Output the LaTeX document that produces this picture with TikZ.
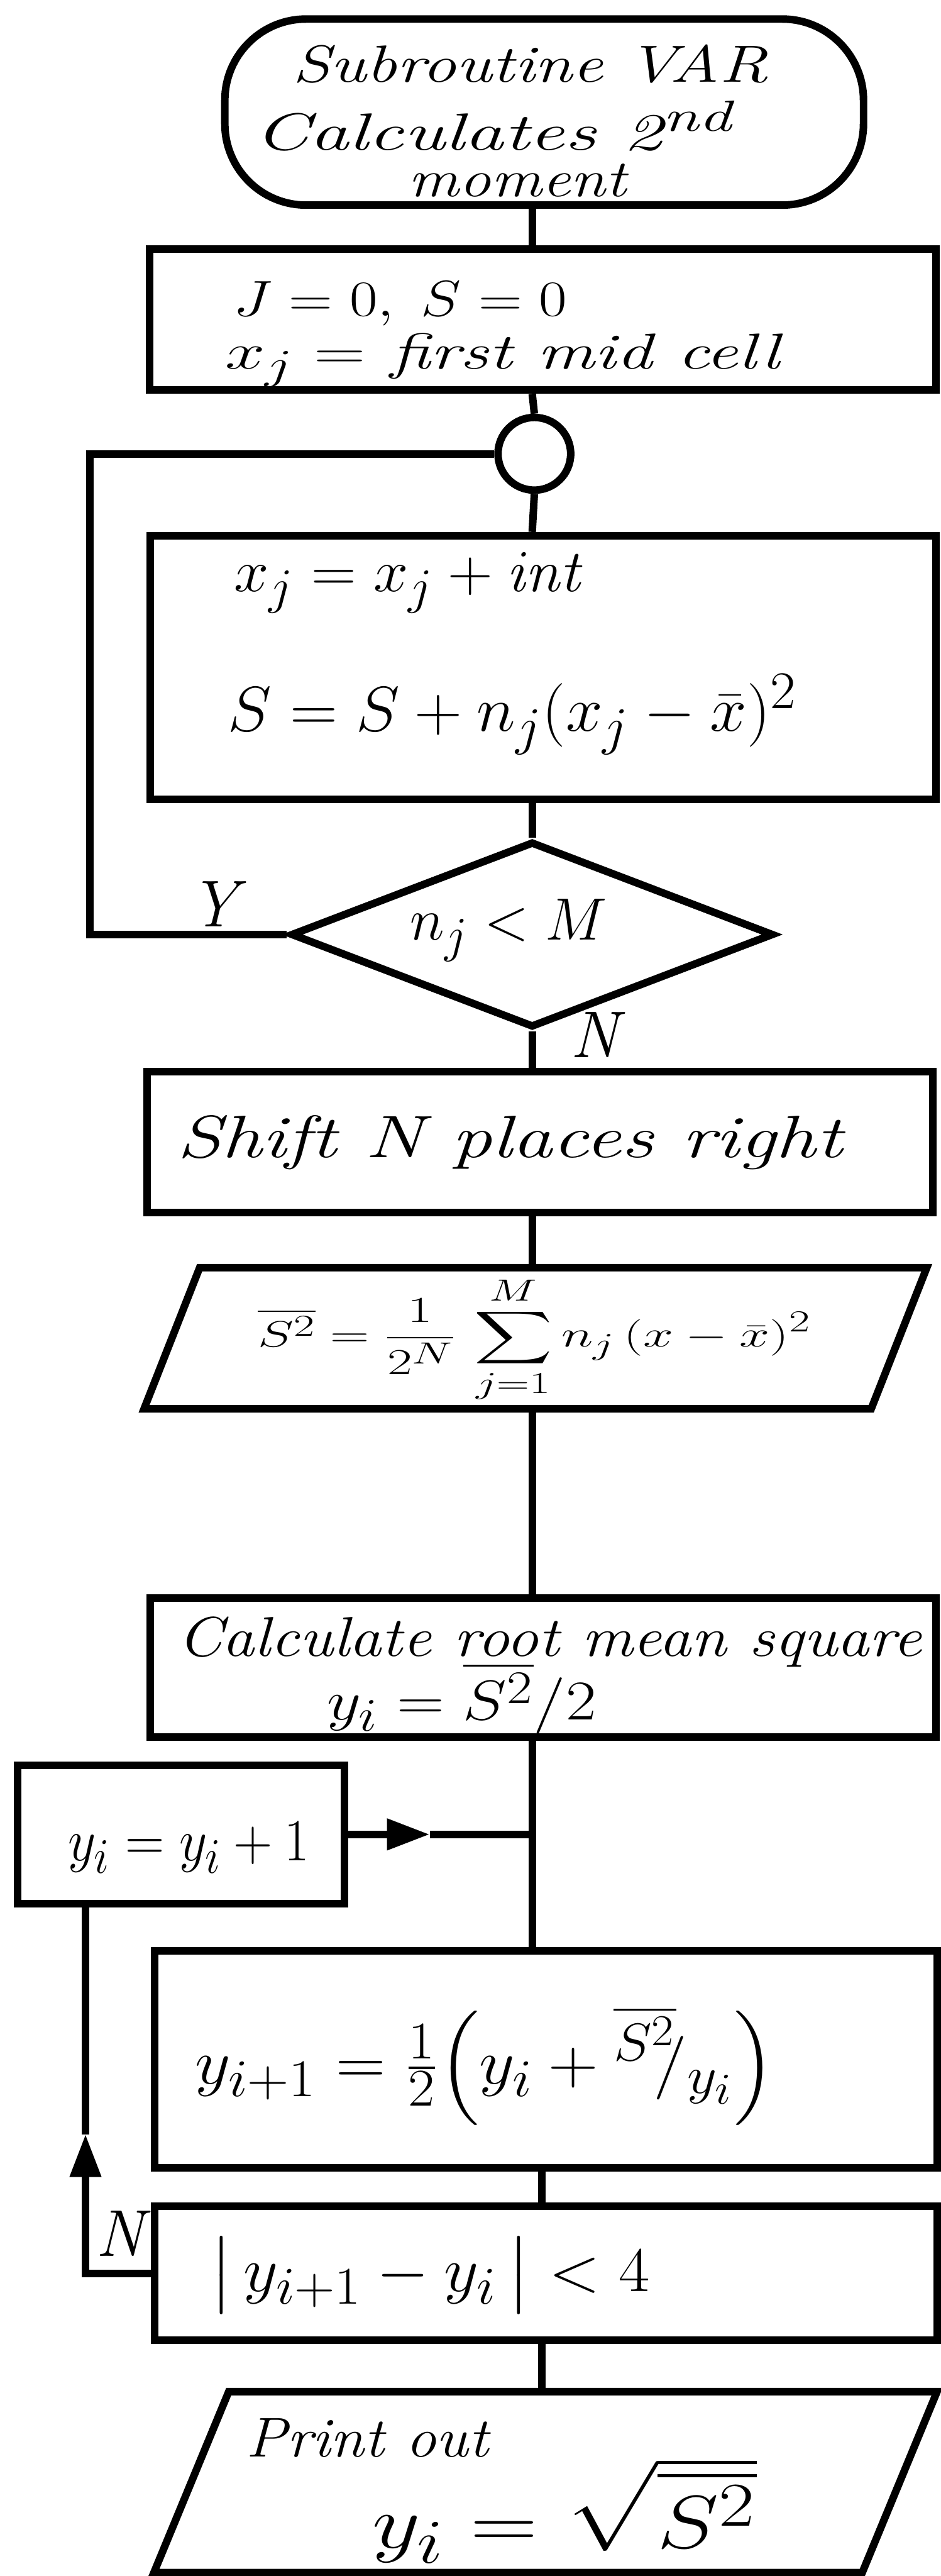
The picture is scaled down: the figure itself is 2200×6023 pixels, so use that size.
\documentclass[tikz,border=0pt]{standalone}
\usepackage{graphicx}
\usepackage{exscale}
\usetikzlibrary{shapes.geometric,arrows.meta}
\newcommand\hw[3]{\scalebox{#1}[#2]{\Huge\itshape #3}}
\begin{document}
\begin{tikzpicture}[x=0.1mm,y=-0.1mm,
  shapebox/.style={draw,line width=5pt,rectangle,inner sep=0pt},
  term/.style={shapebox,rounded corners=19mm},
  ioline/.style={draw,line width=5pt,line join=miter},
  iohold/.style={rectangle,inner sep=0pt},
  decide/.style={draw,line width=5pt,diamond,inner sep=0pt},
  junction/.style={draw,line width=5pt,circle,inner sep=0pt,minimum size=17mm},
  conn/.style={line width=5pt},
  arr/.style={conn,-{Triangle[length=10mm,width=7mm]}},
  txt/.style={inner sep=0pt,anchor=west},
  lbl/.style={inner sep=0pt}
]
\useasboundingbox[fill=white] (0,0) rectangle (2200,6023);
\coordinate (mx) at (1245,0);
\coordinate (mxb) at (1268,0);
\coordinate (lx) at (210,0);
\coordinate (lx2) at (200,0);

% shapes
\node[term,minimum width=149.4mm,minimum height=43.5mm] (term) at (1273,262) {};
\node[lbl] (term1) at (1241,150) {\hw{1.83}{1.4}{Subroutine VAR}};
\node[lbl] (term2) at (1155,294) {\hw{2.1}{1.4}{Calculates 2\textsuperscript{nd}}};
\node[lbl] (term3) at (1210,422) {\hw{1.7}{1.4}{moment}};

\node[shapebox,minimum width=183.9mm,minimum height=33mm] (b1) at (1270,747) {};
\node[txt] (t1a) at (545,710) {\hw{1.63}{1.35}{$J=0,\; S=0$}};
\node[txt] (t1b) at (526,842) {\hw{1.92}{1.35}{$x_j =$ first mid cell}};

\node[junction] (circ) at (1250,1061) {};

\node[shapebox,minimum width=183.8mm,minimum height=61.7mm] (b2) at (1270,1561) {};
\node[txt] (t2a) at (547,1363) {\hw{1.67}{1.6}{$x_j = x_j + \mathit{int}$}};
\node[txt] (t2b) at (533,1670) {\hw{1.77}{1.7}{$S = S + n_j(x_j - \bar{x})^2$}};

\node[decide,minimum width=113mm,minimum height=43.5mm] (dia) at (1245,2185) {};
\node[lbl] (t3) at (1190,2175) {\hw{1.57}{1.6}{$n_j < M$}};
\node[lbl] (ylab) at (500,2114) {\hw{1.77}{1.77}{Y}};
\node[lbl] (nlab) at (1390,2420) {\hw{1.77}{1.77}{N}};

\node[shapebox,minimum width=183.8mm,minimum height=33mm] (b3) at (1263,2670) {};
\node[lbl] (t4) at (1192,2672) {\hw{2.16}{1.6}{Shift N places right}};

\node[iohold,minimum width=183.1mm,minimum height=33mm] (p1) at (1252,3129) {};
\draw[ioline] (467,2964) -- (2168,2964) -- (2038,3294) -- (337,3294) -- cycle;
\node[lbl] (t5) at (1250,3132) {\hw{1.45}{0.98}{$\displaystyle\overline{S^2} = \frac{1}{2^N}\,\sum_{j=1}^{M} n_j\,(x-\bar{x})^2$}};

\node[shapebox,minimum width=183.8mm,minimum height=32.4mm] (b4) at (1270,3899) {};
\node[txt] (t6a) at (414,3839) {\hw{1.72}{1.5}{Calculate root mean square}};
\node[txt] (t6b) at (765,3970) {\hw{1.77}{1.5}{$y_i = \overline{S^2}/2$}};

\node[shapebox,minimum width=76.5mm,minimum height=32.4mm] (b5) at (424,4289) {};
\node[lbl] (t7) at (442,4320) {\hw{1.45}{1.6}{$y_i = y_i + 1$}};

\node[shapebox,minimum width=183mm,minimum height=50.7mm] (b6) at (1277,4815) {};
\node[txt] (t8) at (456,4830) {\hw{1.85}{1.7}{$y_{i+1} = \frac{1}{2}\Bigl(y_i + {}^{\overline{S^2}}\!\!/_{y_i}\Bigr)$}};

\node[shapebox,minimum width=183mm,minimum height=31.2mm] (b7) at (1277,5315) {};
\node[txt] (t9) at (491,5320) {\hw{1.8}{1.7}{$\bigl|\, y_{i+1} - y_i \,\bigr| < 4$}};
\node[lbl] (nlab2) at (281,5223) {\hw{1.77}{1.77}{N}};

\node[iohold,minimum width=183.2mm,minimum height=42.3mm] (p2) at (1276,5803) {};
\draw[ioline] (535,5592) -- (2192,5592) -- (2017,6015) -- (360,6015) -- cycle;
\node[txt] (t10a) at (575,5700) {\hw{1.64}{1.5}{Print out}};
\node[txt] (t10b) at (870,5870) {\hw{2.5}{2.0}{$y_i = \sqrt{\overline{S^2}}$}};

% connectors
\draw[conn] (term.south -| mx) -- (b1.north -| mx);
\draw[conn] (b1.south -| mx) -- (circ.north);
\draw[conn] (circ.south) -- (b2.north -| mx);
\draw[conn] (b2.south -| mx) -- (dia.north);
\draw[conn] (dia.south) -- (b3.north -| mx);
\draw[conn] (b3.south -| mx) -- (p1.north -| mx);
\draw[conn] (p1.south -| mx) -- (b4.north -| mx);
\draw[conn] (b4.south -| mx) -- (b6.north -| mx);
\draw[conn] (b6.south -| mxb) -- (b7.north -| mxb);
\draw[conn] (b7.south -| mxb) -- (p2.north -| mxb);
% loop 1
\draw[conn] (dia.west) -- (dia.west -| lx) -- (circ.west -| lx) -- (circ.west);
% loop 2
\coordinate (ah2) at (200,4990);
\draw[arr] (b7.west) -- (b7.west -| lx2) -- (ah2);
\draw[conn] (ah2) -- (b5.south -| lx2);
% arrow into main line
\path (b5.east) ++(190,0) coordinate (ah1);
\draw[arr] (b5.east) -- (ah1);
\draw[conn] (ah1) -- (b5.east -| mx);
\end{tikzpicture}
\end{document}
